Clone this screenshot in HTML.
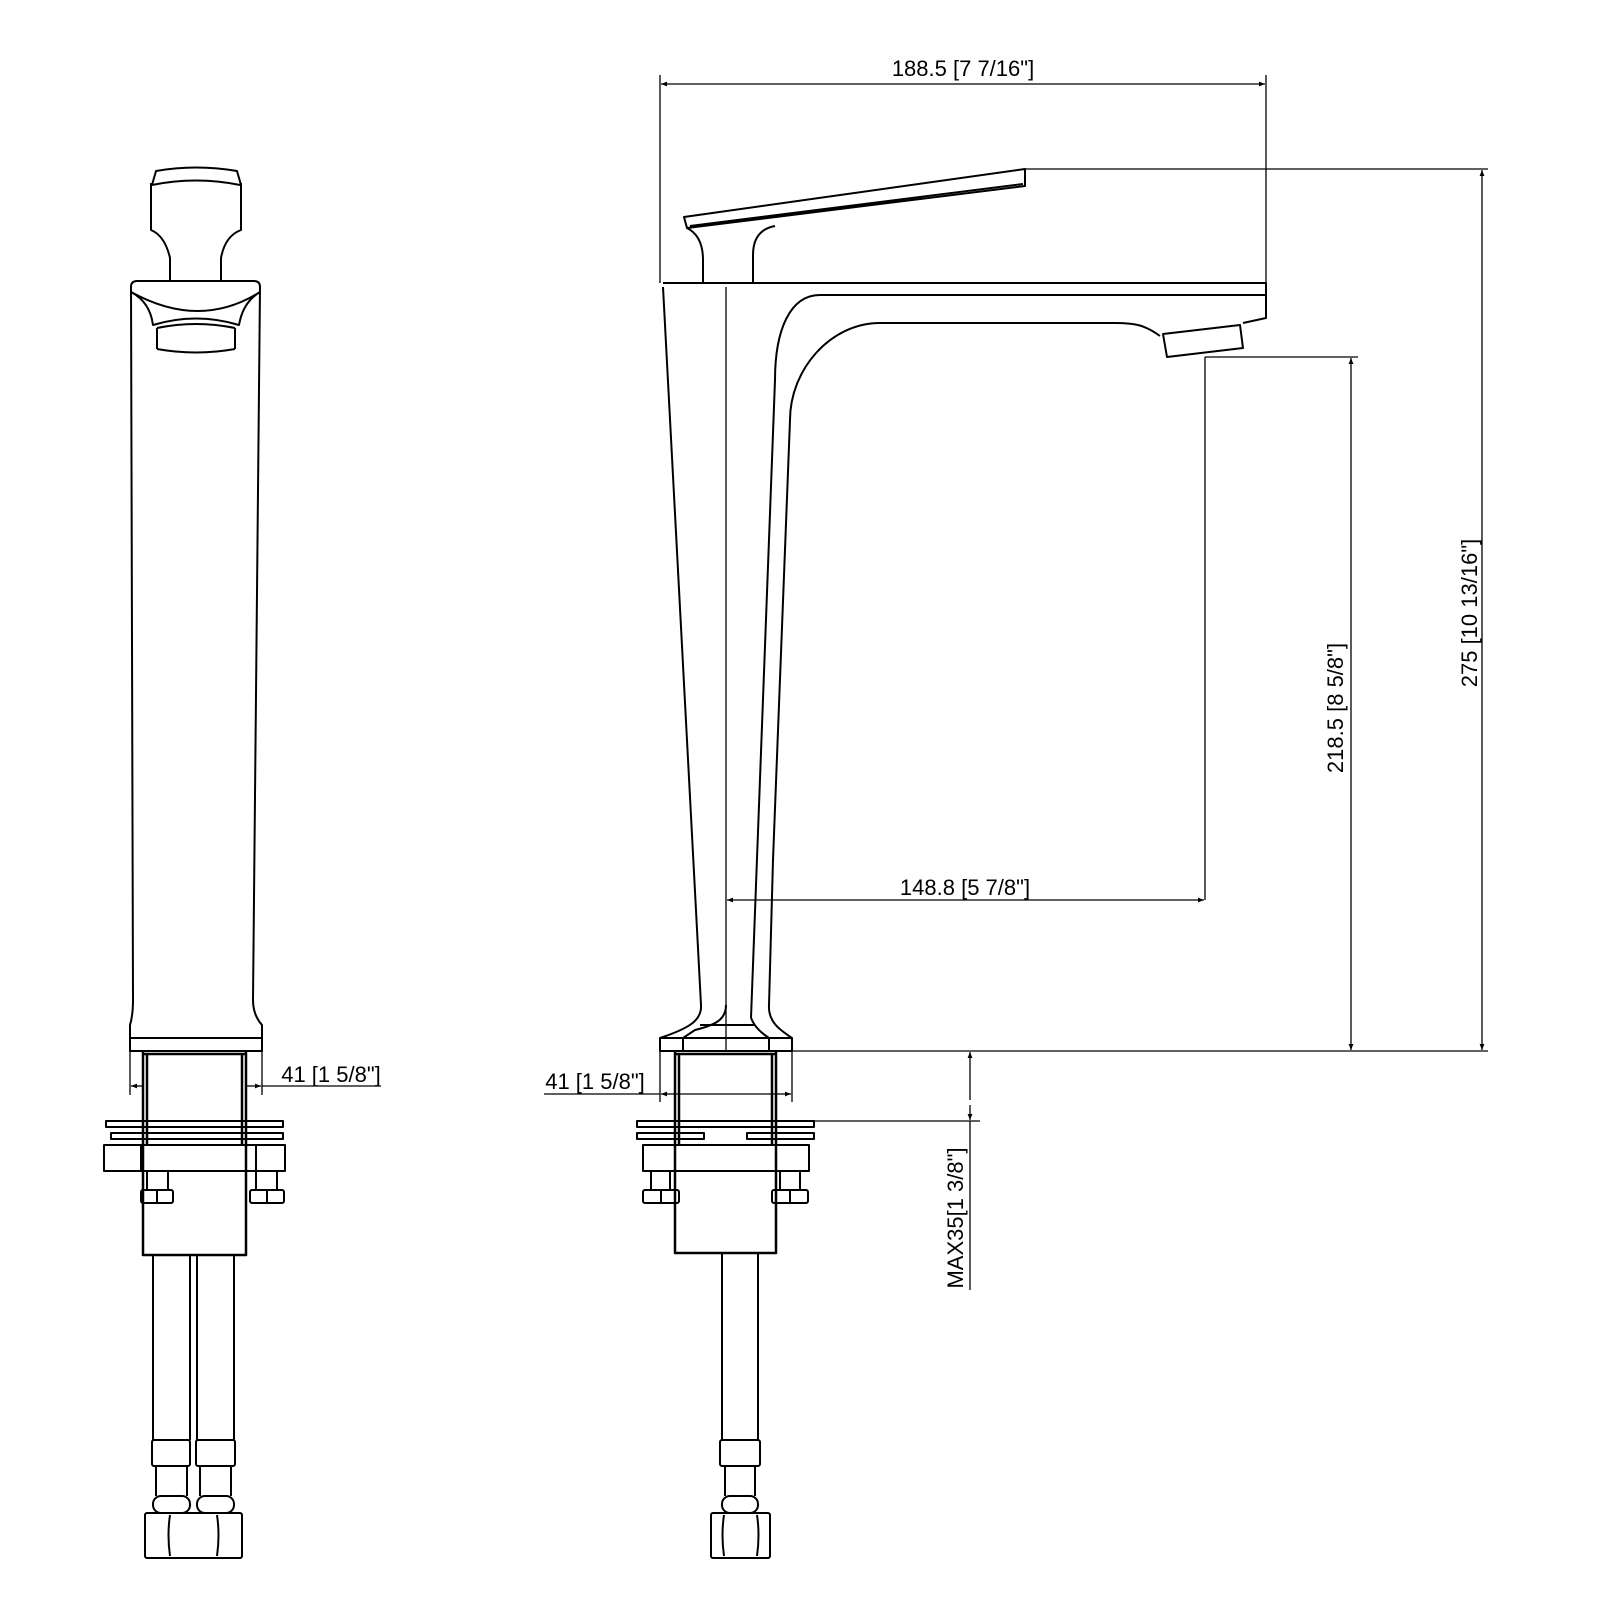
<!DOCTYPE html>
<html><head><meta charset="utf-8"><style>html,body{margin:0;padding:0;background:#fff}svg{display:block}</style></head><body>
<svg width="1600" height="1600" viewBox="0 0 1600 1600" xmlns="http://www.w3.org/2000/svg" font-family="Liberation Sans, sans-serif" font-size="22">
<defs><marker id="a" viewBox="0 0 10 10" refX="10" refY="5" markerWidth="14" markerHeight="6" orient="auto-start-reverse" markerUnits="userSpaceOnUse"><path d="M0 1L10 5L0 9z" fill="#000"/></marker></defs>
<g fill="none" stroke="#000" stroke-width="2" stroke-linejoin="round">
<!-- LEFT VIEW -->
<path d="M152 185 Q196 176 240 185 M152 185 L156 171 Q196 164 237 171 L241 185"/>
<path d="M151 183 V230 Q165 236 170 258 V281 M241 183 V230 Q225 236 221 258 V281"/>
<path d="M131 287 Q131 281 137 281 H254 Q260 281 260 287"/>
<path d="M131 287 L133 1000 Q133 1015 130 1025 V1038 M260 287 L253 1000 Q253 1015 262 1025 V1038"/>
<path d="M131 292 Q150 302 153 325 Q196 312 239 325 Q243 302 260 292 M131 292 Q200 330 260 292"/>
<path d="M157 328 V349 M235 328 V349 M157 349 Q196 356 235 349 M157 328 Q196 320 235 328"/>
<rect x="130" y="1038" width="132" height="13"/>
<path d="M143 1051 V1255 H246 V1051 M147 1054 V1145 M242 1054 V1145 M143 1054 H246" stroke-width="2.5"/>
<rect x="106" y="1121" width="177" height="6"/><rect x="111" y="1133" width="172" height="6"/>
<rect x="104" y="1145" width="181" height="26"/><path d="M141 1145 V1171 M256 1145 V1171"/>
<path d="M147 1171 V1190 M168 1171 V1190 M256 1171 V1190 M277 1171 V1190"/>
<rect x="141" y="1190" width="32" height="13" rx="2"/><path d="M157 1190 V1203"/>
<rect x="250" y="1190" width="34" height="13" rx="2"/><path d="M267 1190 V1203"/>
<path d="M153 1255 V1440 M190 1255 V1440 M197 1255 V1440 M234 1255 V1440"/>
<rect x="152" y="1440" width="38" height="26" rx="2"/><rect x="196" y="1440" width="39" height="26" rx="2"/>
<path d="M156 1466 V1496 M187 1466 V1496 M200 1466 V1496 M231 1466 V1496"/>
<rect x="153" y="1496" width="37" height="17" rx="8"/><rect x="197" y="1496" width="37" height="17" rx="8"/>
<rect x="145" y="1513" width="97" height="45" rx="2"/><path d="M170 1515 Q167 1535 170 1556 M217 1515 Q220 1535 217 1556"/>
<!-- RIGHT VIEW -->
<path d="M684 217 L1025 169 V186 L687 228 L684 217 Z M690 226 L1023 184" />
<path d="M687 228 Q703 236 703 260 V283 M753 283 V255 Q753 230 775 226"/>
<path d="M663 283 H1266 V318 L1243 323"/>
<path d="M1266 295 H820 C790 295 775 330 775 380 L751 1018"/>
<path d="M1160 336 C1145 325 1135 323 1115 323 H880 C830 323 790 370 790 420 L773 860 L769 1005 C768 1022 780 1030 792 1038"/>
<path d="M1163 334 L1240 325 L1243 348 L1167 357 Z"/>
<path d="M663 287 L701 1005 C702 1020 690 1028 660 1038"/>
<path d="M726 1005 C726 1020 715 1025 695 1030 L683 1038 M751 1018 C756 1030 765 1035 769 1038 M700 1025 H755"/>
<rect x="660" y="1038" width="132" height="13"/><path d="M683 1038 V1051 M769 1038 V1051"/>
<path d="M675 1051 V1253 H776 V1051 M679 1054 V1145 M772 1054 V1145 M675 1054 H776" stroke-width="2.5"/>
<rect x="637" y="1121" width="177" height="6"/><rect x="637" y="1133" width="67" height="6"/><rect x="747" y="1133" width="67" height="6"/>
<rect x="643" y="1145" width="166" height="26"/>
<path d="M651 1171 V1190 M670 1171 V1190 M780 1171 V1190 M800 1171 V1190"/>
<rect x="643" y="1190" width="36" height="13" rx="2"/><path d="M661 1190 V1203"/>
<rect x="772" y="1190" width="36" height="13" rx="2"/><path d="M790 1190 V1203"/>
<path d="M722 1253 V1440 M758 1253 V1440"/>
<rect x="720" y="1440" width="40" height="26" rx="2"/>
<path d="M725 1466 V1496 M755 1466 V1496"/>
<rect x="722" y="1496" width="36" height="17" rx="8"/>
<rect x="711" y="1513" width="59" height="45" rx="2"/><path d="M724 1515 Q721 1535 724 1556 M757 1515 Q760 1535 757 1556"/>
</g>
<g fill="none" stroke="#000" stroke-width="1.3">
<path d="M726 287 V1051"/>
<path d="M130 1051 V1095 M262 1051 V1095"/>
<line x1="131" y1="1086" x2="143" y2="1086" marker-start="url(#a)"/><line x1="247" y1="1086" x2="261" y2="1086" marker-end="url(#a)"/><path d="M262 1086 H381"/>
<path d="M660 1051 V1102 M792 1051 V1102"/>
<line x1="661" y1="1094" x2="675" y2="1094" marker-start="url(#a)"/><line x1="776" y1="1094" x2="791" y2="1094" marker-end="url(#a)"/><path d="M675 1094 H776 M660 1094 H544"/>
<path d="M660 75 V283 M1266 75 V283"/><line x1="661" y1="84" x2="1265" y2="84" marker-start="url(#a)" marker-end="url(#a)"/>
<path d="M1205 357 V900"/><line x1="727" y1="900" x2="1204" y2="900" marker-start="url(#a)" marker-end="url(#a)"/>
<path d="M1205 357 H1358"/><line x1="1351" y1="358" x2="1351" y2="1050" marker-start="url(#a)" marker-end="url(#a)"/>
<path d="M1025 169 H1488 M792 1051 H1488"/><line x1="1482" y1="170" x2="1482" y2="1050" marker-start="url(#a)" marker-end="url(#a)"/>
<path d="M814 1121 H980 M970 1290 V1121"/><line x1="970" y1="1100" x2="970" y2="1052" marker-end="url(#a)"/><line x1="970" y1="1105" x2="970" y2="1120" marker-end="url(#a)"/>
</g>
<g fill="#000">
<text x="331" y="1082" text-anchor="middle">41 [1 5/8"]</text>
<text x="595" y="1089" text-anchor="middle">41 [1 5/8"]</text>
<text x="963" y="76" text-anchor="middle">188.5 [7 7/16"]</text>
<text x="965" y="895" text-anchor="middle">148.8 [5 7/8"]</text>
<text transform="translate(1343,708) rotate(-90)" text-anchor="middle">218.5 [8 5/8"]</text>
<text transform="translate(1477,613) rotate(-90)" text-anchor="middle">275 [10 13/16"]</text>
<text transform="translate(963,1218) rotate(-90)" text-anchor="middle">MAX35[1 3/8"]</text>
</g>
</svg>
</body></html>
